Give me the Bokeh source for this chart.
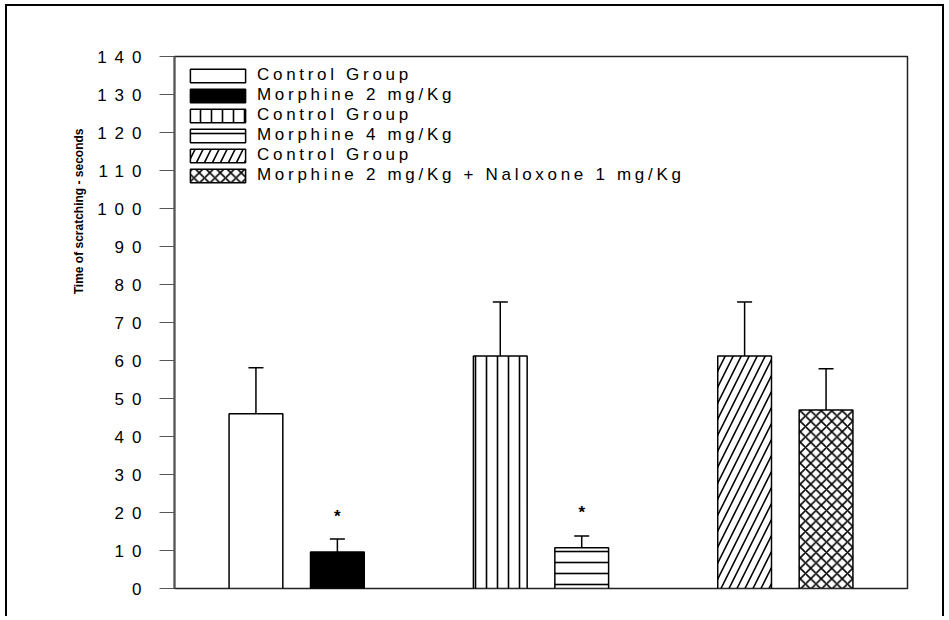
from bokeh.plotting import figure
from bokeh.models import (ColumnDataSource, Range1d, FixedTicker, Whisker, TeeHead,
                          Legend, LegendItem, CustomJS, Title)
from bokeh.core.properties import value
from bokeh.document import Document
from bokeh.embed import file_html
from bokeh.resources import INLINE

# ---------------- data ----------------
treatments = ["Control Group", "Morphine 2 mg/Kg", "Control Group",
              "Morphine 4 mg/Kg", "Control Group",
              "Morphine 2 mg/Kg + Naloxone 1 mg/Kg"]
experiment = [0, 0, 1, 1, 2, 2]          # which experiment (group) each bar belongs to
slot = [0, 1, 0, 1, 0, 1]                # position within its group
means = [46.0, 9.6, 61.2, 10.7, 61.2, 47.0]
errors = [12.1, 3.4, 14.2, 3.1, 14.2, 10.8]
significant = [False, True, False, True, False, False]
star_levels = [19.0, 20.0]               # y of the "*" marks above significant bars
y_ticks = [0, 10, 20, 30, 40, 50, 60, 70, 80, 90, 100, 110, 120, 130, 140]
y_title = "Time of scratching - seconds"

# ---------------- styles ----------------
fills = ["white", "black", "white", "white", "white", "white"]
hatches = [" ", " ", "|", "-", "/", "x"]
hatch_scales = [11, 11, 11, 11, 16, 10.5]

FONT = "Liberation Sans"

xpos = [3 * g + s + 1 for g, s in zip(experiment, slot)]
src = ColumnDataSource(dict(
    x=xpos, top=means,
    err_top=[m + e for m, e in zip(means, errors)],
    fill=fills, hatch=hatches, hscale=hatch_scales,
))
sx = [x for x, sig in zip(xpos, significant) if sig]
star_src = ColumnDataSource(dict(x=sx, y=star_levels, t=["*"] * len(sx)))

p = figure(width=939, height=612, output_backend="svg", toolbar_location=None,
           x_range=Range1d(0, 9), y_range=Range1d(0, 140),
           min_border_left=167, min_border_right=39, min_border_top=50,
           min_border_bottom=30)
p.styles = {"border-top": "2px solid black", "border-left": "2px solid black",
            "border-right": "2px solid black",
            "margin-left": "5px", "margin-top": "4px"}
p.xaxis.visible = False
p.xgrid.visible = False
p.ygrid.visible = False
p.outline_line_color = "#222222"
p.outline_line_width = 1.5

ya = p.yaxis[0]
ya.ticker = FixedTicker(ticks=y_ticks)
ya.axis_line_color = "#555555"
ya.axis_line_width = 2
ya.major_tick_line_color = "#555555"
ya.major_tick_line_width = 1.2
ya.major_tick_out = 15
ya.major_tick_in = 0
ya.minor_tick_line_color = None
ya.major_label_text_font = FONT
ya.major_label_text_font_size = "17px"
ya.major_label_text_color = "black"
ya.major_label_standoff = 18

# y-axis title, beside the upper part of the axis as in the original
ytitle = Title(text=y_title, align="right", offset=72, standoff=50, text_font=FONT,
               text_font_size="12px", text_font_style="bold", text_color="black")
p.add_layout(ytitle, "left")

bars = p.vbar(x="x", top="top", bottom=0, width=0.66, source=src,
              fill_color="fill", line_color="black", line_width=1.5,
              hatch_pattern="hatch", hatch_scale="hscale", hatch_color="black",
              hatch_weight=1.6)

wh = Whisker(base="x", upper="err_top", lower="top", source=src,
             dimension="height", line_color="black", line_width=1.5,
             upper_head=TeeHead(size=15, line_color="black", line_width=1.5),
             lower_head=None)
p.add_layout(wh)

p.text(x="x", y="y", text="t", source=star_src, text_align="center",
       text_baseline="middle", text_font=value(FONT), text_font_style="bold",
       text_font_size="17px", text_color="black")

items = [LegendItem(label=lab, renderers=[bars], index=i)
         for i, lab in enumerate(treatments)]
legend = Legend(items=items, location="top_left", margin=9, padding=0,
                glyph_width=69, glyph_height=17, label_height=17, spacing=0,
                label_standoff=5, label_text_font=FONT,
                label_text_font_size="17px", label_text_color="black",
                border_line_color=None, background_fill_alpha=0)
p.add_layout(legend)

# widen the letter tracking of tick labels and legend labels, as in the original
js = CustomJS(args=dict(labels=treatments), code="""
const LEG = new Set(labels);
function collect(root, out) {
  for (const el of root.querySelectorAll('*')) {
    if (el.shadowRoot) collect(el.shadowRoot, out);
    out.push(el);
  }
}
function apply() {
  const all = [];
  collect(document, all);
  for (const t of all) {
    if (t.getAttribute('data-ls') === '1') continue;
    const tag = t.tagName.toLowerCase();
    const s = (t.textContent || '').trim();
    if (tag === 'text') {
      if (/^[0-9]+$/.test(s)) {
        const ls = 8;
        t.style.letterSpacing = ls + 'px';
        const x = parseFloat(t.getAttribute('x') || '0');
        t.setAttribute('x', String(x - (s.length - 1) * ls));
        t.setAttribute('data-ls', '1');
      }
    } else if (tag === 'div' && t.children.length === 0 && LEG.has(s)) {
      t.style.letterSpacing = '3.7px';
      t.style.whiteSpace = 'nowrap';
      t.style.overflow = 'visible';
      t.setAttribute('data-ls', '1');
    }
  }
}
apply();
let n = 0;
const h = setInterval(() => { apply(); n += 1; if (n > 80) clearInterval(h); }, 50);
""")

doc = Document()
doc.add_root(p)
doc.js_on_event("document_ready", js)

open("out.html", "w").write(file_html(p, INLINE))
